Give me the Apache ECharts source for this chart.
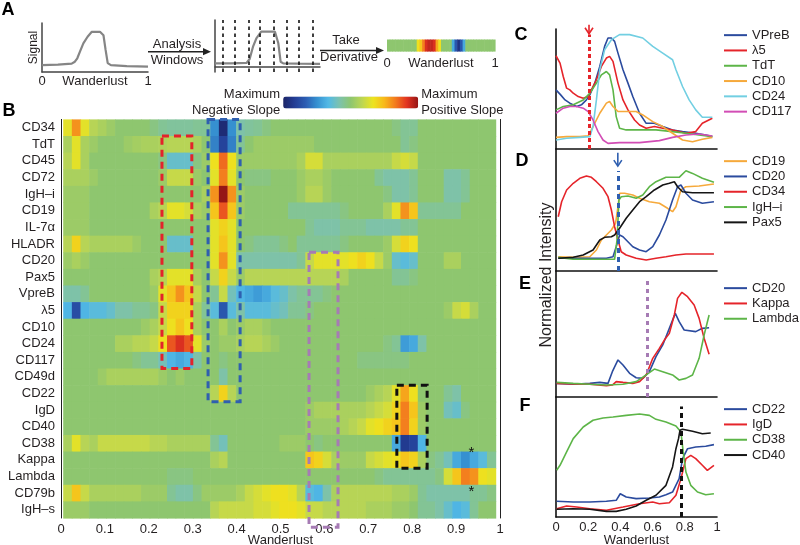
<!DOCTYPE html>
<html><head><meta charset="utf-8">
<script src="https://cdn.jsdelivr.net/npm/echarts/dist/echarts.min.js"></script>
<style>html,body{margin:0;padding:0;background:#fff}#c{width:800px;height:545px}</style>
</head><body><div id="c"></div>
<script>
// ---------------- DATA ----------------
const markers = ['CD34','TdT','CD45','CD72','IgH–i','CD19','IL-7α','HLADR','CD20','Pax5','VpreB','λ5','CD10','CD24','CD117','CD49d','CD22','IgD','CD40','CD38','Kappa','Lambda','CD79b','IgH–s'];
const hmCD34 = [0.3,0.6,0.3,0.15,0.1,0.05,0,0,0,0, -0.05,-0.1,-0.12,-0.12,-0.12,-0.1,-0.1,-0.5,-0.95,-0.5, -0.15,-0.12,-0.1,-0.05,0,0,0,0,0,0, 0,0,0,0,0,0,0,0,-0.05,-0.1, -0.1,0,0,0,0,0,0,0,0,0];
const hmTdT = [0.1,0.3,0.1,0.05,0,0,0,0.05,0.08,0.1, 0.1,0.12,0.15,0.15,0.15,0.1,0,-0.55,-0.8,-0.55, -0.1,0,0.05,0.05,0.05,0.05,0.05,0.05,0.05,0, 0,0,0,0,0,0,0,0,0,-0.1, -0.05,0,0,0,0,0,0,0,0,0];
const hmCD45 = [0.15,0.3,0.1,0,0,0,0,0,0,0, 0,-0.05,-0.25,-0.25,-0.25,-0.05,0.05,0.35,0.7,0.35, 0.05,0.05,0.05,0.05,0.05,0.05,0.05,0.1,0.25,0.25, 0.1,0.1,0.1,0.1,0.1,0.1,0.1,0.1,0.2,0.25, 0.2,0,0,0,0,0,0,0,0,0];
const hmCD72 = [0.1,0.1,0.1,0.05,0,0,0,0,0,0, 0,0.05,0.2,0.2,0.2,0.05,0,0.3,0.65,0.3, 0,-0.05,-0.05,-0.05,0,0,0,0.05,0.1,0.1, 0.05,0,0,0,0,0,-0.1,-0.15,-0.15,-0.15, -0.1,0,0,0,-0.15,-0.15,-0.1,0,0,0];
const hmIgHi = [0.05,0.05,0.05,0,0,0,0,0,0,0, 0,0,0,0,0,0,0.1,0.6,1.0,0.6, 0.05,0,0,0,0,0,0,0.05,0.15,0.15, 0.05,0,0,0,0,0,0,-0.05,-0.15,-0.15, -0.1,0,0,0,-0.15,-0.15,-0.1,0,0,0];
const hmCD19 = [0.05,0.05,0.05,0,0,0,0,0,0,0, 0.1,0.15,0.3,0.3,0.25,0.1,0.05,0.45,0.75,0.45, 0.05,0,0,0,0,0,-0.1,-0.1,-0.1,-0.1, -0.1,-0.1,-0.05,0,0,0,0,0.1,0.3,0.6, 0.45,-0.1,-0.1,-0.1,-0.1,-0.1,0,0,0,0];
const hmIL7a = [0.05,0.05,0.05,0,0,0,0,0,0,0, 0,0,0,0,0,0,0,0.3,0.4,0.3, 0,0,0,0,0,0,0,0,-0.1,-0.15, -0.15,-0.15,-0.1,-0.1,-0.1,-0.15,-0.15,-0.15,-0.15,-0.1, -0.1,0,0,0,0,0,0,0,0,0];
const hmHLADR = [0.15,0.4,0.15,0.1,0.1,0.1,0.1,0.1,0.05,0, 0,0,-0.25,-0.25,-0.25,0,0,0.3,0.45,0.3, 0,-0.05,-0.1,-0.1,-0.1,-0.05,0,-0.1,-0.1,-0.1, -0.1,-0.1,-0.05,0,0,0,0,0.05,0.25,0.4, 0.35,0,0,0,0,0,0,0,0,0];
const hmCD20 = [0.05,0.1,0.05,0,0,0,0,0,0,0, 0,0,0,0,0,0,0,0.3,0.6,0.3, -0.15,-0.15,-0.15,-0.15,-0.15,-0.15,-0.15,-0.1,0.2,0.3, 0.3,0.3,0.3,0.35,0.4,0.35,0.2,0.05,-0.25,-0.3, -0.25,0,0,0,0.1,0.1,0,0,0,0];
const hmPax5 = [0,0,0,0,0,0,0,0,0,0, 0.1,0.15,0.3,0.3,0.3,0.1,0,0.2,0.4,0.2, 0.05,0.15,0.15,0.15,0.15,0.15,0.15,0.15,0.15,0.15, 0.15,0.15,0.1,0,0,0,0,0,-0.1,-0.1, -0.05,0,0,0,0,0,0,0,0,0];
const hmVpreB = [-0.15,-0.15,-0.1,0,0,0,0,0,0,0, 0.05,0.3,0.45,0.6,0.45,0.2,0,-0.1,0.2,-0.2, -0.35,-0.4,-0.45,-0.4,-0.3,-0.25,-0.15,-0.1,-0.1,-0.1, -0.05,0,0,0,0,0,0,0,0,0, 0,0,0,0,0,0,0,0,0,0];
const hmL5 = [-0.35,-0.75,-0.35,-0.3,-0.3,-0.25,-0.15,-0.15,-0.1,-0.1, -0.05,0.2,0.4,0.4,0.4,0.1,-0.1,-0.3,-0.7,-0.3, -0.15,-0.3,-0.3,-0.3,-0.25,-0.2,-0.1,-0.1,-0.05,0, 0,0,0,0,0,0,0,0,0,0, 0,0,0,0,0.05,0.2,0.25,0.1,0,0];
const hmCD10 = [0,0,0,0,0,0,0,0,0,0.05, 0.1,0.2,0.35,0.45,0.35,0.1,0,0,0.1,0, 0.05,0.1,0.1,0.05,0,0,0,0,0,0, 0,0,0,0,0,0,0,0,0,0, 0,0,0,0,0,0,0,0,0,0];
const hmCD24 = [0,0,0,0,0,0,0.1,0.1,0.15,0.15, 0.2,0.35,0.75,0.85,0.75,0.3,0.05,0,0.05,0.05, 0.1,0.15,0.15,0.1,0.05,0,0,0,0,0, 0,0,0,0,0,0,0,-0.05,-0.1,-0.45, -0.4,-0.15,0,0,0,0,0,0,0,0];
const hmCD117 = [0,0,0,0,0,0,0,0,-0.05,-0.1, -0.1,-0.2,-0.35,-0.4,-0.35,-0.15,0,0,-0.05,0, 0,0,0,0,0,0,0,0,0,0, 0,0,0,0,-0.05,-0.05,-0.05,-0.05,-0.05,-0.05, 0,0,0,0,0,0,0,0,0,0];
const hmCD49d = [0,0,0,0,0.05,0.1,0.1,0.1,0.1,0.1, 0.1,0.05,0,0.05,0,0,0,0,-0.15,0, 0,0,0,0,0,0,0,0,0,0, 0,0,0,0,0,0,0,0,0,0, 0,0,0,0,0,0,0,0,0,0];
const hmCD22 = [0,0,0,0,0,0,0,0,0,0, 0,0,0,0,0,0,0,0.15,0.4,0.15, 0,0,0,0,0,0,0,0,0,0, 0,0,0,0,0,0.05,0.1,0.15,0.3,0.55, 0.35,0,0,0,-0.1,-0.15,0,0,0,0];
const hmIgD = [0,0,0,0,0,0,0,0,0,0, 0,0,0,0,0,0,0,0,0,0, 0,0,0,0,0,0,0,0,0.05,0.1, 0.1,0.1,0.1,0.1,0.1,0.15,0.2,0.25,0.4,0.65, 0.45,0.05,0,0,-0.2,-0.25,-0.05,0,0,0];
const hmCD40 = [0,0,0,0,0,0,0,0,0,0, 0,0,0,0,0,0,0,0,0,0, 0,0,0,0,0,0,0,0,0.05,0.05, 0.05,0.05,0.1,0.15,0.2,0.3,0.35,0.4,0.45,0.65, 0.4,0.05,0,0,0,0,0,0,0,0];
const hmCD38 = [0.1,0.3,0.15,0.1,0.2,0.2,0.2,0.2,0.2,0.2, 0.15,0.15,0.1,0.1,0.1,0.1,0.1,-0.1,-0.2,0, 0,0,0,0,0,0.05,0.05,0.05,0,-0.05, 0,0,0,0,0,0,0,0,-0.4,-0.85, -0.8,-0.35,0,0,0,0,0,0,0,0];
const hmKappa = [0,0,0,0,0,0,0,0,0,0, 0,0,0,0,0,0,0,0.1,0.15,0, 0,0,0,0,0,0,0,0,0.45,0.4, 0.25,0.1,0.05,0.05,0.05,0.2,0.25,0.3,0.35,0.45, 0.4,0.1,-0.05,-0.1,-0.2,-0.4,-0.5,-0.4,-0.3,-0.1];
const hmLambda = [0,0,0,0,0,0,0,0,0,0, 0,0,-0.05,-0.05,-0.05,0,0,0,0,0, 0,0,0,0,0,0,0,0,0,0, 0,0,0,0,0,0,-0.05,-0.1,-0.1,-0.1, -0.1,-0.1,-0.1,-0.05,0.25,0.45,0.65,0.6,0.35,0.3];
const hmCD79b = [0.2,0.45,0.2,0.1,0.1,0.1,0.1,0.1,0.1,0.05, 0.05,0.05,-0.1,-0.15,-0.15,-0.05,0.05,0.05,0.05,0.05, 0.1,0.2,0.25,0.3,0.35,0.35,0.3,0.15,-0.3,-0.35, -0.15,0.1,0.15,0.15,0.15,0.15,0.15,0.15,0.1,0.1, 0.05,-0.1,-0.15,-0.15,-0.15,-0.15,-0.15,-0.1,-0.1,-0.05];
const hmIgHs = [0.05,0.05,0.05,0,0,0,0,0,0,0, 0,0,0,0,0,0,0,0.15,0.2,0.2, 0.2,0.2,0.25,0.25,0.3,0.35,0.35,0.3,0.2,0.2, 0.15,0.15,0.15,0.15,0.15,0.1,0.1,0.1,0.05,0.05, 0,-0.1,-0.1,-0.15,-0.25,-0.35,-0.3,-0.1,0,0];
const heatRows = [hmCD34,hmTdT,hmCD45,hmCD72,hmIgHi,hmCD19,hmIL7a,hmHLADR,hmCD20,hmPax5,hmVpreB,hmL5,hmCD10,hmCD24,hmCD117,hmCD49d,hmCD22,hmIgD,hmCD40,hmCD38,hmKappa,hmLambda,hmCD79b,hmIgHs];
const winFrom = 0.005, winTo = 0.99;   // wanderlust range covered by the analysis windows

// annotation boxes: [x from, x to, first row, last row, extra rows below]
const boxes = [[0.23,0.298,1,14,0],[0.335,0.408,0,16,0],[0.565,0.631,8,23,0.55],[0.765,0.834,16,20,0]];
const stars = [[0.935,20,-0.45],[0.935,22,-0.1]];

// panel A
const signalA = [[0,0.14],[0.15,0.15],[0.28,0.17],[0.31,0.21],[0.333,0.28],[0.358,0.415],[0.39,0.585],[0.43,0.72],[0.47,0.82],[0.547,0.82],[0.58,0.75],[0.6,0.45],[0.62,0.18],[0.65,0.14],[0.8,0.12],[1,0.11]];
const signalB = [[0,0.067],[0.15,0.067],[0.3,0.075],[0.317,0.1],[0.33,0.16],[0.362,0.425],[0.394,0.606],[0.44,0.748],[0.571,0.748],[0.603,0.498],[0.625,0.102],[0.65,0.067],[0.8,0.06],[1,0.056]];
const windowEdges = [0.073,0.19,0.317,0.435,0.562,0.683,0.803,0.927];
const stripVals = [0,0,0,0,0,0,0,0,0,0, 0,0.35,0.45,0.65,0.85,0.9,0.9,0.85,0.55,0.35, 0,0,0,0,-0.4,-0.7,-0.9,-0.7,-0.4,0, 0,0,0,0,0,0,0,0,0,0];

// panel C
const cVPreB = [[0,.493],[.029,.451],[.056,.409],[.086,.382],[.128,.354],[.158,.368],[.189,.409],[.21,.451],[.241,.549],[.272,.688],[.302,.855],[.323,.925],[.344,.925],[.364,.897],[.385,.799],[.416,.66],[.447,.549],[.477,.437],[.519,.298],[.56,.214],[.611,.214],[.663,.187],[.724,.159],[.786,.145],[.868,.131],[.93,.117],[.971,.103]];
const cL5 = [[0,.777],[.025,.716],[.045,.604],[.066,.507],[.086,.493],[.107,.465],[.138,.437],[.169,.423],[.2,.437],[.22,.493],[.251,.577],[.282,.688],[.313,.758],[.333,.772],[.354,.73],[.385,.549],[.416,.409],[.447,.326],[.488,.242],[.519,.2],[.56,.173],[.611,.187],[.663,.173],[.724,.159],[.807,.131],[.868,.145],[.909,.214],[.971,.256]];
const cTdT = [[0,.326],[.045,.354],[.107,.368],[.169,.409],[.21,.465],[.251,.549],[.282,.618],[.313,.646],[.333,.618],[.354,.493],[.374,.27],[.395,.173],[.436,.159],[.519,.159],[.621,.159],[.724,.145],[.807,.131],[.889,.117],[.971,.103]];
const cCD10 = [[0,.097],[.066,.103],[.148,.103],[.2,.109],[.23,.187],[.272,.298],[.313,.382],[.333,.396],[.354,.354],[.385,.312],[.436,.312],[.498,.312],[.539,.284],[.601,.228],[.663,.187],[.724,.131],[.786,.075],[.848,.061],[.909,.081],[.971,.097]];
const cCD24 = [[0,.075],[.066,.089],[.148,.097],[.21,.103],[.23,.187],[.251,.409],[.272,.66],[.302,.827],[.344,.911],[.395,.953],[.457,.953],[.539,.925],[.601,.855],[.663,.799],[.724,.744],[.745,.66],[.786,.521],[.827,.409],[.868,.326],[.909,.265],[.971,.265]];
const cCD117 = [[0,.298],[.045,.34],[.086,.354],[.128,.354],[.169,.34],[.2,.312],[.23,.242],[.261,.145],[.292,.075],[.323,.047],[.395,.053],[.519,.053],[.642,.07],[.724,.097],[.807,.117],[.889,.125],[.971,.109]];
// panel D
const dCD19 = [[.014,.117],[.107,.112],[.21,.117],[.251,.172],[.282,.254],[.313,.295],[.344,.336],[.37,.391],[.385,.527],[.395,.637],[.426,.637],[.477,.623],[.519,.596],[.58,.568],[.642,.555],[.693,.514],[.724,.486],[.745,.527],[.776,.664],[.807,.691],[.889,.697],[.981,.713]];
const dCD20 = [[.014,.104],[.107,.104],[.21,.104],[.313,.104],[.354,.117],[.374,.199],[.395,.295],[.416,.281],[.436,.254],[.477,.199],[.519,.172],[.56,.158],[.601,.199],[.642,.295],[.683,.418],[.724,.582],[.755,.691],[.776,.705],[.807,.637],[.848,.582],[.909,.555],[.981,.568]];
const dCD34 = [[.014,.445],[.035,.568],[.066,.664],[.107,.719],[.148,.76],[.189,.779],[.22,.768],[.251,.732],[.292,.678],[.323,.609],[.344,.5],[.364,.363],[.385,.254],[.405,.158],[.436,.131],[.498,.104],[.56,.09],[.621,.104],[.683,.117],[.745,.131],[.807,.139],[.868,.139],[.981,.139]];
const dIgHi = [[.014,.112],[.107,.096],[.21,.096],[.313,.096],[.364,.096],[.379,.254],[.391,.582],[.405,.609],[.447,.615],[.498,.596],[.539,.623],[.58,.691],[.621,.732],[.683,.768],[.724,.768],[.765,.768],[.807,.822],[.848,.8],[.909,.76],[.981,.727]];
const dPax5 = [[.014,.104],[.107,.112],[.169,.131],[.23,.172],[.272,.254],[.302,.276],[.344,.281],[.364,.295],[.395,.35],[.436,.432],[.477,.5],[.519,.568],[.56,.609],[.611,.664],[.663,.705],[.704,.719],[.735,.732],[.755,.691],[.786,.65],[.848,.642],[.981,.642]];
// panel E
const eCD20 = [[.004,.108],[.107,.101],[.21,.108],[.272,.116],[.323,.108],[.35,.201],[.385,.294],[.416,.254],[.457,.188],[.498,.153],[.539,.148],[.58,.201],[.621,.32],[.663,.413],[.704,.545],[.741,.664],[.765,.598],[.796,.532],[.868,.519],[.909,.545],[.951,.55]];
const eKappa = [[.004,.108],[.107,.103],[.21,.101],[.313,.09],[.35,.095],[.374,.122],[.416,.116],[.477,.108],[.519,.122],[.56,.175],[.601,.307],[.642,.386],[.673,.452],[.704,.505],[.735,.651],[.755,.783],[.782,.831],[.817,.796],[.858,.73],[.889,.624],[.92,.466],[.951,.339]];
const eLambda = [[.004,.116],[.107,.108],[.21,.101],[.313,.095],[.416,.101],[.498,.122],[.56,.175],[.611,.222],[.663,.201],[.724,.175],[.765,.135],[.807,.148],[.848,.175],[.889,.307],[.92,.492],[.951,.651]];
// panel F
const fCD22 = [[.004,.131],[.107,.125],[.21,.125],[.313,.131],[.374,.139],[.399,.194],[.436,.167],[.498,.153],[.58,.158],[.642,.167],[.683,.186],[.724,.208],[.765,.319],[.786,.486],[.817,.569],[.868,.583],[.93,.589],[.981,.603]];
const fIgD = [[.004,.069],[.066,.092],[.128,.083],[.21,.069],[.313,.056],[.416,.083],[.519,.111],[.601,.125],[.642,.111],[.704,.119],[.745,.181],[.776,.319],[.807,.486],[.837,.514],[.868,.486],[.909,.431],[.94,.389],[.981,.431]];
const fCD38 = [[.004,.389],[.025,.431],[.066,.542],[.107,.653],[.169,.75],[.23,.806],[.292,.825],[.354,.833],[.436,.847],[.519,.858],[.58,.847],[.621,.814],[.683,.792],[.745,.758],[.776,.708],[.79,.542],[.807,.375],[.837,.264],[.879,.208],[.93,.186],[.981,.194]];
const fCD40 = [[.004,.064],[.107,.069],[.21,.064],[.313,.047],[.374,.047],[.436,.064],[.498,.092],[.56,.139],[.621,.181],[.683,.264],[.724,.417],[.745,.569],[.761,.653],[.77,.722],[.786,.731],[.848,.714],[.909,.694],[.961,.7]];
// transition markers (wanderlust) per panel
const cutC = 0.205, cutD = 0.384, cutE = 0.565, cutF = 0.776;

// ---------------- STYLE ----------------
const FONT = "'Liberation Sans', Arial, Helvetica, sans-serif";
const TXT = '#231f20';
const BLUE='#2b4b9e', RED='#e5242a', GREEN='#5db548', ORANGE='#f6a93b', CYAN='#72cfe2', MAGENTA='#d24db5', BLACK='#151515';
const slopeColors = ['#1c2567','#233d95','#2c5db3','#3690d0','#52b9e6','#7cc2ae','#8ec66f','#bcd653','#ede41f','#f8b81b','#f2791e','#e23321','#951616'];

const winW = (winTo - winFrom) / heatRows[0].length;
const heatData = [];
heatRows.forEach((vals, r) => vals.forEach((v, k) => heatData.push([winFrom + k * winW, r, v, winW])));
const stripW = 1 / stripVals.length;
const stripData = stripVals.map((v, k) => [k * stripW, 0, v, stripW]);

function renderCell(params, api) {
  const x0 = api.value(0), row = api.value(1), w = api.value(3);
  const p0 = api.coord([x0, row]);
  const p1 = api.coord([x0 + w, row]);
  const h = api.size([0, 1])[1];
  return { type: 'rect', shape: { x: p0[0], y: p0[1] - h / 2, width: p1[0] - p0[0] + 0.6, height: h + 0.6 },
           style: { fill: api.visual('color') } };
}
const boxColors = ['#e3232b', '#2f5fb0', '#a67bb4', '#111111'];
function renderBox(params, api) {
  const h = api.size([0, 1])[1];
  const a = api.coord([api.value(0), api.value(2)]);
  const b = api.coord([api.value(1), api.value(3)]);
  const top = a[1] - h / 2, bottom = b[1] + h / 2 + api.value(4) * h;
  return { type: 'rect', shape: { x: a[0], y: top, width: b[0] - a[0], height: bottom - top },
           style: { fill: null, stroke: boxColors[params.dataIndex], lineWidth: 3, lineDash: [7, 5] } };
}
function renderStar(params, api) {
  const h = api.size([0, 1])[1];
  const p = api.coord([api.value(0), api.value(1)]);
  return { type: 'text', x: p[0], y: p[1] + api.value(2) * h,
           style: { text: '*', font: '15px ' + FONT, fill: '#111', align: 'center', verticalAlign: 'middle' } };
}
function arrowRenderer(color) {
  return function (params, api) {
    const a = api.coord([api.value(0), api.value(1)]);
    const b = api.coord([api.value(0), api.value(2)]);
    return { type: 'group', children: [
      { type: 'line', shape: { x1: a[0], y1: a[1], x2: b[0], y2: b[1] }, style: { stroke: color, lineWidth: 1.6 } },
      { type: 'polyline', shape: { points: [[b[0] - 4, b[1] - 6], [b[0], b[1]], [b[0] + 4, b[1] - 6]] }, style: { stroke: color, lineWidth: 1.6, fill: null } }
    ] };
  };
}

const noSplit = { show: false };
function panelX(gi, extra) {
  return Object.assign({ gridIndex: gi, type: 'value', min: 0, max: 1,
    axisLine: { onZero: false, lineStyle: { color: '#111', width: 1.6 } },
    axisTick: { show: false }, axisLabel: { show: false }, splitLine: noSplit }, extra || {});
}
function panelY(gi) {
  return { gridIndex: gi, type: 'value', min: 0, max: 1,
    axisLine: { show: true, onZero: false, lineStyle: { color: '#111', width: 1.6 } },
    axisTick: { show: false }, axisLabel: { show: false }, splitLine: noSplit };
}
function line(name, data, color, ai, extra) {
  return Object.assign({ type: 'line', name, data, xAxisIndex: ai, yAxisIndex: ai, symbol: 'none', showSymbol: false,
    lineStyle: { color, width: 1.6 }, itemStyle: { color }, silent: true, z: 3 }, extra || {});
}
function cutLine(x, yTop, color, dash) {
  return { silent: true, symbol: ['none', 'none'], label: { show: false }, animation: false,
    lineStyle: { color, width: 3, type: dash },
    data: [[{ coord: [x, 0] }, { coord: [x, yTop] }]] };
}
const legendCommon = { orient: 'vertical', left: 724, icon: 'rect', itemWidth: 23, itemHeight: 2, itemGap: 0,
  padding: 0, selectedMode: false, textStyle: { fontSize: 13, lineHeight: 15.3, color: TXT, fontFamily: FONT } };
const lbl = { fontSize: 13, color: TXT, fontFamily: FONT };

function txt(t, x, y, size, bold, rot) {
  return { type: 'text', x, y, rotation: rot || 0, silent: true,
    style: { text: t, font: (bold ? 'bold ' : '') + size + 'px ' + FONT, fill: bold ? '#000' : TXT, align: 'center', verticalAlign: 'middle' } };
}
function hArrow(x1, x2, y) {
  return { type: 'group', silent: true, children: [
    { type: 'line', shape: { x1, y1: y, x2: x2 - 4, y2: y }, style: { stroke: '#222', lineWidth: 1.5 } },
    { type: 'polygon', shape: { points: [[x2, y], [x2 - 8, y - 3.6], [x2 - 8, y + 3.6]] }, style: { fill: '#222' } }
  ] };
}

const chart = echarts.init(document.getElementById('c'), null, { renderer: 'canvas' });
const option = {
  animation: false,
  backgroundColor: '#fff',
  textStyle: { fontFamily: FONT },
  grid: [
    { left: 42, top: 23, width: 106, height: 49 },
    { left: 215, top: 20, width: 105, height: 52 },
    { left: 387, top: 39.5, width: 108, height: 11.5 },
    { left: 61, top: 119.4, width: 439, height: 398.6 },
    { left: 556, top: 29, width: 161, height: 120 },
    { left: 556, top: 149, width: 161, height: 122 },
    { left: 556, top: 271, width: 161, height: 126 },
    { left: 556, top: 397, width: 161, height: 120 }
  ].map(g => Object.assign({ containLabel: false, outerBoundsMode: 'none' }, g)),
  xAxis: [
    { gridIndex: 0, type: 'value', min: 0, max: 1, interval: 1, axisLine: { onZero: false, lineStyle: { color: '#444', width: 1.5 } },
      axisTick: { show: false }, splitLine: noSplit, axisLabel: Object.assign({ margin: 3 }, lbl),
      name: 'Wanderlust', nameLocation: 'middle', nameGap: 3, nameMoveOverlap: false, nameTextStyle: lbl },
    { gridIndex: 1, type: 'value', min: 0, max: 1, axisLine: { onZero: true, lineStyle: { color: '#444', width: 1.5 } },
      axisTick: { show: false }, axisLabel: { show: false }, splitLine: noSplit },
    { gridIndex: 2, type: 'value', min: 0, max: 1, interval: 1, axisLine: { show: false, onZero: false }, axisTick: { show: false },
      splitLine: noSplit, axisLabel: Object.assign({ margin: 6 }, lbl),
      name: 'Wanderlust', nameLocation: 'middle', nameGap: 6, nameMoveOverlap: false, nameTextStyle: lbl },
    { gridIndex: 3, type: 'value', min: 0, max: 1, interval: 0.1, position: 'bottom',
      axisLine: { onZero: false, lineStyle: { color: '#222', width: 1 } },
      axisTick: { inside: true, length: 4, lineStyle: { color: '#222' } }, splitLine: noSplit,
      axisLabel: Object.assign({ margin: 5 }, lbl), name: 'Wanderlust', nameLocation: 'middle', nameGap: 16,
      nameMoveOverlap: false, nameTextStyle: lbl },
    { gridIndex: 3, type: 'value', min: 0, max: 1, interval: 0.1, position: 'top',
      axisLine: { onZero: false, lineStyle: { color: '#222', width: 1 } },
      axisTick: { inside: true, length: 4, lineStyle: { color: '#222' } }, splitLine: noSplit, axisLabel: { show: false } },
    panelX(4), panelX(5), panelX(6),
    panelX(7, { interval: 0.2, axisLabel: Object.assign({ show: true, margin: 4 }, lbl),
      name: 'Wanderlust', nameLocation: 'middle', nameGap: 17, nameMoveOverlap: false, nameTextStyle: lbl })
  ],
  yAxis: [
    { gridIndex: 0, type: 'value', min: 0, max: 1, axisLine: { show: true, onZero: false, lineStyle: { color: '#444', width: 1.5 } },
      axisTick: { show: false }, axisLabel: { show: false }, splitLine: noSplit },
    { gridIndex: 1, type: 'value', min: -0.12, max: 1, axisLine: { show: true, onZero: false, lineStyle: { color: '#444', width: 1.5 } },
      axisTick: { show: false }, axisLabel: { show: false }, splitLine: noSplit },
    { gridIndex: 2, type: 'category', data: ['strip'], show: false },
    { gridIndex: 3, type: 'category', data: markers, inverse: true, position: 'left',
      axisLine: { onZero: false, lineStyle: { color: '#222', width: 1 } },
      axisTick: { inside: true, alignWithLabel: true, length: 4, lineStyle: { color: '#222' } },
      axisLabel: Object.assign({ margin: 6, interval: 0 }, lbl), splitLine: noSplit },
    { gridIndex: 3, type: 'category', data: markers, inverse: true, position: 'right',
      axisLine: { onZero: false, lineStyle: { color: '#222', width: 1 } },
      axisTick: { inside: true, alignWithLabel: true, length: 4, lineStyle: { color: '#222' } },
      axisLabel: { show: false }, splitLine: noSplit },
    panelY(4), panelY(5), panelY(6), panelY(7)
  ],
  visualMap: {
    type: 'continuous', min: -1, max: 1, orient: 'horizontal', seriesIndex: [2, 3], dimension: 2,
    inRange: { color: slopeColors }, calculable: false, hoverLink: false, realtime: false,
    left: 192, top: 87, itemWidth: 12, itemHeight: 135, padding: 0, textGap: 3,
    text: ['Maximum\nPositive Slope', 'Maximum\nNegative Slope'],
    textStyle: { fontSize: 13, lineHeight: 15.6, color: TXT, fontFamily: FONT }
  },
  legend: [
    Object.assign({ top: 27.5, data: ['VPreB', 'λ5', 'TdT', 'CD10', 'CD24', 'CD117'] }, legendCommon),
    Object.assign({ top: 153.5, data: ['CD19', 'CD20', 'CD34', 'IgH–i', 'Pax5'] }, legendCommon),
    Object.assign({ top: 280.5, data: ['CD20', 'Kappa', 'Lambda'] }, legendCommon),
    Object.assign({ top: 401.5, data: ['CD22', 'IgD', 'CD38', 'CD40'] }, legendCommon)
  ],
  series: [
    { type: 'line', data: signalA, xAxisIndex: 0, yAxisIndex: 0, symbol: 'none', lineStyle: { color: '#858585', width: 2.2 }, silent: true },
    { type: 'line', data: signalB, xAxisIndex: 1, yAxisIndex: 1, symbol: 'none', lineStyle: { color: '#858585', width: 2.2 }, silent: true,
      markLine: { silent: true, symbol: ['none', 'none'], label: { show: false }, animation: false,
        lineStyle: { color: '#111', width: 1.6, type: [3.5, 3.5] }, data: windowEdges.map(v => ({ xAxis: v })) } },
    { type: 'custom', data: stripData, xAxisIndex: 2, yAxisIndex: 2, renderItem: renderCell, encode: { x: 0, y: 1 }, silent: true },
    { type: 'custom', data: heatData, xAxisIndex: 3, yAxisIndex: 3, renderItem: renderCell, encode: { x: 0, y: 1 }, silent: true, z: 1 },
    { type: 'custom', data: boxes, xAxisIndex: 3, yAxisIndex: 3, renderItem: renderBox, encode: { x: [0, 1], y: [2, 3] }, clip: false, silent: true, z: 5 },
    { type: 'custom', data: stars, xAxisIndex: 3, yAxisIndex: 3, renderItem: renderStar, encode: { x: 0, y: 1 }, clip: false, silent: true, z: 6 },
    line('VPreB', cVPreB, BLUE, 5, { markLine: cutLine(cutC, 0.955, RED, [4, 3]) }),
    line('λ5', cL5, RED, 5),
    line('TdT', cTdT, GREEN, 5),
    line('CD10', cCD10, ORANGE, 5),
    line('CD24', cCD24, CYAN, 5),
    line('CD117', cCD117, MAGENTA, 5),
    line('CD19', dCD19, ORANGE, 6, { markLine: cutLine(cutD, 0.82, '#2f5fb0', [5, 4]) }),
    line('CD20', dCD20, BLUE, 6),
    line('CD34', dCD34, RED, 6),
    line('IgH–i', dIgHi, GREEN, 6),
    line('Pax5', dPax5, BLACK, 6),
    line('CD20', eCD20, BLUE, 7, { markLine: cutLine(cutE, 0.94, '#a67bb4', [4, 4]) }),
    line('Kappa', eKappa, RED, 7),
    line('Lambda', eLambda, GREEN, 7),
    line('CD22', fCD22, BLUE, 8, { markLine: cutLine(cutF, 0.92, '#111', [5, 4]) }),
    line('IgD', fIgD, RED, 8),
    line('CD38', fCD38, GREEN, 8),
    line('CD40', fCD40, BLACK, 8),
    { type: 'custom', data: [[cutC, 1.035, 0.96]], xAxisIndex: 5, yAxisIndex: 5, renderItem: arrowRenderer(RED), encode: { x: 0, y: 1 }, clip: false, silent: true, z: 10 },
    { type: 'custom', data: [[cutD, 0.97, 0.86]], xAxisIndex: 6, yAxisIndex: 6, renderItem: arrowRenderer('#2f5fb0'), encode: { x: 0, y: 1 }, clip: false, silent: true, z: 10 }
  ],
  graphic: [
    txt('A', 8, 10, 18, true), txt('B', 9, 111, 18, true),
    txt('C', 521, 35, 18, true), txt('D', 522, 161, 18, true),
    txt('E', 525, 284, 18, true), txt('F', 525, 406, 18, true),
    txt('Normalized Intensity', 547, 275, 16, false, Math.PI / 2),
    txt('Signal', 33.5, 47.5, 12, false, Math.PI / 2),
    hArrow(148, 211, 51.7), txt('Analysis', 177, 44, 13), txt('Windows', 177, 60, 13),
    hArrow(320, 384, 50.5), txt('Take', 346, 40, 13), txt('Derivative', 349, 57, 13)
  ]
};
chart.setOption(option);
</script></body></html>
